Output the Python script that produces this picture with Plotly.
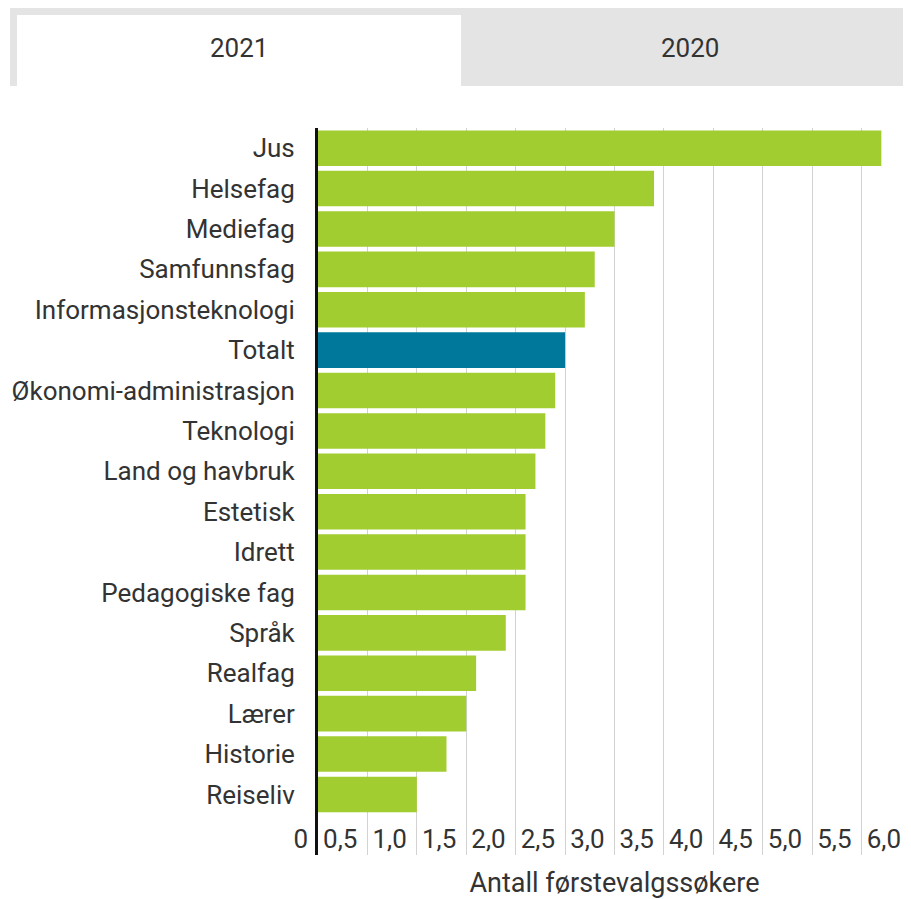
import plotly.graph_objects as go

categories = ["Jus", "Helsefag", "Mediefag", "Samfunnsfag", "Informasjonsteknologi",
              "Totalt", "Økonomi-administrasjon", "Teknologi", "Land og havbruk",
              "Estetisk", "Idrett", "Pedagogiske fag", "Språk", "Realfag", "Lærer",
              "Historie", "Reiseliv"]
values = [5.7, 3.4, 3.0, 2.8, 2.7, 2.5, 2.4, 2.3, 2.2, 2.1, 2.1, 2.1, 1.9, 1.6, 1.5, 1.3, 1.0]
tick_vals = [0, 0.5, 1.0, 1.5, 2.0, 2.5, 3.0, 3.5, 4.0, 4.5, 5.0, 5.5, 6.0]
tick_text = ["0", "0,5", "1,0", "1,5", "2,0", "2,5", "3,0", "3,5", "4,0", "4,5", "5,0", "5,5", "6,0"]
tabs = ["2021", "2020"]
x_title = "Antall førstevalgssøkere"
highlight = "Totalt"

GREEN = "#a1cd30"
BLUE = "#00789b"
colors = [BLUE if c == highlight else GREEN for c in categories]

OFF = 8  # default body margin of the page
W, H = 911 - OFF, 899 - OFF
L, R, T, B = 318 - OFF, 0, 128 - OFF, 44
pw, ph = W - L - R, H - T - B

def px(x):  # page pixel x -> paper
    return (x - OFF - L) / pw

def py(y):  # page pixel y -> paper
    return (H - B - (y - OFF)) / ph

FONT = "Roboto, 'Open Sans', sans-serif"
TXT = "#333333"
FS = 26

fig = go.Figure(go.Bar(
    y=categories, x=values, orientation="h",
    marker=dict(color=colors, line=dict(width=0)),
    hoverinfo="skip",
))

fig.update_layout(
    width=W, height=H,
    margin=dict(l=L, r=R, t=T, b=B, pad=0),
    paper_bgcolor="white", plot_bgcolor="white",
    bargap=0.12, showlegend=False,
    font=dict(family=FONT, color=TXT, size=FS),
)

fig.update_yaxes(
    type="category", categoryorder="array", categoryarray=categories,
    range=[len(categories) + 0.5, -0.5],
    showgrid=False, zeroline=False,
    showline=True, linecolor="#111111", linewidth=3,
    ticks="", ticklabelstandoff=15,
    tickfont=dict(family=FONT, size=FS, color=TXT),
    automargin=False,
)

fig.update_xaxes(
    range=[0, 6.0],
    tickmode="array", tickvals=tick_vals, ticktext=tick_text,
    showgrid=True, gridcolor="#d2d2d2", gridwidth=1,
    zeroline=False, showline=False, ticks="",
    ticklabelposition="outside left", ticklabelstandoff=-34, ticklabelshift=-10,
    tickfont=dict(family=FONT, size=FS, color=TXT),
    title=dict(text=x_title, font=dict(family=FONT, size=27, color=TXT), standoff=20),
    automargin=False,
)

# tab bar
fig.add_shape(type="rect", xref="paper", yref="paper",
              x0=px(10), x1=px(911), y0=py(86), y1=py(8),
              fillcolor="#e4e4e4", line=dict(width=0))
fig.add_shape(type="rect", xref="paper", yref="paper",
              x0=px(17), x1=px(461), y0=py(88), y1=py(15),
              fillcolor="white", line=dict(width=0))
for label, cx in zip(tabs, [239, 690]):
    fig.add_annotation(text=label, xref="paper", yref="paper",
                       x=px(cx), y=py(48), showarrow=False,
                       font=dict(family=FONT, size=FS, color=TXT),
                       xanchor="center", yanchor="middle")

fig.write_html("out.html")
